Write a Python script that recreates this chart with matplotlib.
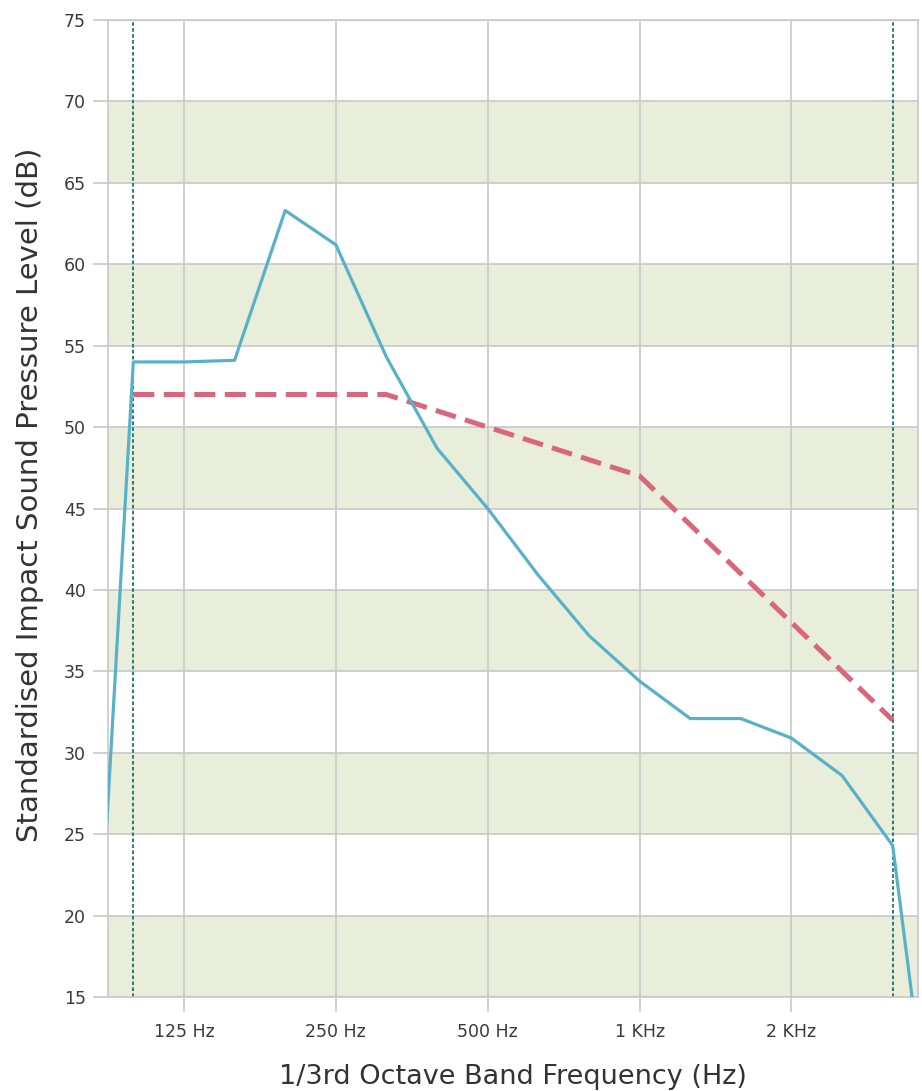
import matplotlib
matplotlib.use("Agg")
import matplotlib.pyplot as plt

# 1/3-octave band centre frequencies (Hz)
bands = [80, 100, 125, 160, 200, 250, 315, 400, 500, 630, 800,
         1000, 1250, 1600, 2000, 2500, 3150, 4000]

# Measured standardised impact sound pressure level L'nT (dB)
measured = [0.0, 54.0, 54.0, 54.1, 63.3, 61.2, 54.3, 48.7, 45.0, 40.9, 37.2,
            34.4, 32.1, 32.1, 30.9, 28.6, 24.3, 0.0]

# Shifted reference curve, 100 Hz - 3150 Hz
ref_bands = [100, 125, 160, 200, 250, 315, 400, 500, 630, 800,
             1000, 1250, 1600, 2000, 2500, 3150]
reference = [52, 52, 52, 52, 52, 52, 51, 50, 49, 48,
             47, 44, 41, 38, 35, 32]

tick_bands = [125, 250, 500, 1000, 2000]
tick_labels = ["125 Hz", "250 Hz", "500 Hz", "1 KHz", "2 KHz"]

y_min, y_max, y_step = 15, 75, 5

idx = {f: i for i, f in enumerate(bands)}
x_meas = [idx[f] for f in bands]
x_ref = [idx[f] for f in ref_bands]

W, H = 922, 1091
fig = plt.figure(figsize=(W / 100, H / 100), dpi=100)
ax = fig.add_axes([108 / W, 1 - 997 / H, (918 - 108) / W, (997 - 20) / H])

ax.set_xlim(0.5, 16.5)
ax.set_ylim(y_min, y_max)

# alternating horizontal bands
for lo in range(y_min, y_max, 2 * y_step):
    ax.axhspan(lo, lo + y_step, color="#e9eedb", zorder=0, lw=0)

grid_c = "#c8c8c8"
ax.set_yticks(range(y_min, y_max + 1, y_step))
ax.set_xticks([idx[f] for f in tick_bands])
ax.set_xticklabels(tick_labels)
ax.grid(True, color=grid_c, lw=1.2, zorder=1)
for s in ax.spines.values():
    s.set_color(grid_c)
    s.set_linewidth(1.2)
ax.tick_params(axis="both", colors=grid_c, length=11, width=1.2,
               labelcolor="#3a3a3a", labelsize=12.5)
ax.tick_params(axis="x", pad=8)
ax.tick_params(axis="y", pad=5)

# frequency range limits
for f in (100, 3150):
    ax.axvline(idx[f], color="#1f7069", lw=1.3, ls=(0, (2.0, 1.3)), zorder=2)

ax.plot(x_ref, reference, color="#d9667a", lw=3.6, ls=(0, (4.2, 1.9)),
        solid_capstyle="butt", zorder=3)
ax.plot(x_meas, measured, color="#58b1c8", lw=2.3, zorder=4)

ax.set_xlabel("1/3rd Octave Band Frequency (Hz)", fontsize=19.5,
              color="#333333", labelpad=16)
ax.set_ylabel("Standardised Impact Sound Pressure Level (dB)", fontsize=21,
              color="#333333")
ax.yaxis.set_label_coords(-0.079, 0.514)

fig.savefig("out.png", dpi=100)
